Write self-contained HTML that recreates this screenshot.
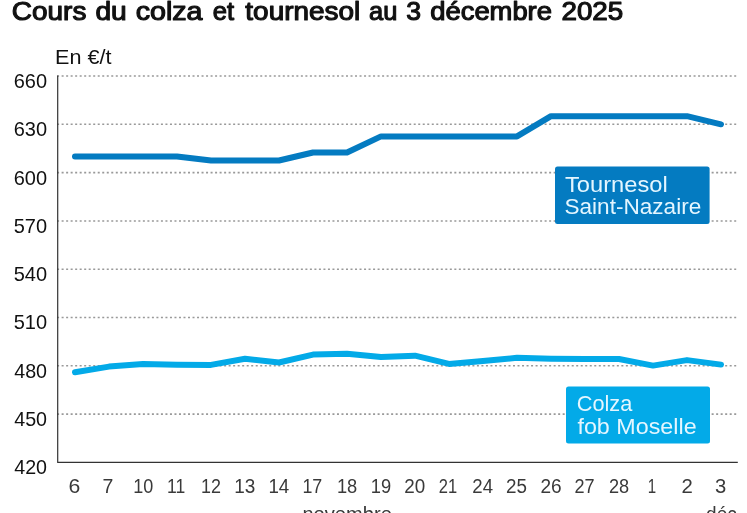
<!DOCTYPE html>
<html lang="fr">
<head>
<meta charset="utf-8">
<title>Cours du colza et tournesol au 3 décembre 2025</title>
<style>
html,body{margin:0;padding:0;background:#fff;}
body{width:747px;height:513px;overflow:hidden;font-family:"Liberation Sans",sans-serif;}
svg{display:block;}
text{font-family:"Liberation Sans",sans-serif;}
.title{font-size:26px;font-weight:normal;fill:#111;stroke:#111;stroke-width:1.15;stroke-linejoin:round;}
.unit{font-size:20px;fill:#111;}
.yl{font-size:20.4px;fill:#111;}
.xl{font-size:20px;fill:#3a3a3a;}
.month{font-size:20px;fill:#3a3a3a;}
.grid line{stroke:#999;stroke-width:1.55;stroke-dasharray:2 2.514;}
.axis{fill:none;stroke:#333;stroke-width:1.2;stroke-linejoin:round;}
.s1{fill:none;stroke:#047bc1;stroke-width:6;stroke-linecap:round;stroke-linejoin:round;}
.s2{fill:none;stroke:#03aae8;stroke-width:6;stroke-linecap:round;stroke-linejoin:round;}
.lab{font-size:21.5px;fill:#e4f6ff;}
</style>
</head>
<body>
<svg width="747" height="513" viewBox="0 0 747 513">
<rect x="0" y="0" width="747" height="513" fill="#ffffff"/>
<g>
<text class="title" y="19.6"><tspan x="11.89" textLength="74.49" lengthAdjust="spacingAndGlyphs">Cours</tspan> <tspan x="95.46" textLength="31.31" lengthAdjust="spacingAndGlyphs">du</tspan> <tspan x="135.65" textLength="66.85" lengthAdjust="spacingAndGlyphs">colza</tspan> <tspan x="212.71" textLength="21.28" lengthAdjust="spacingAndGlyphs">et</tspan> <tspan x="245.37" textLength="114.84" lengthAdjust="spacingAndGlyphs">tournesol</tspan> <tspan x="369.11" textLength="28.34" lengthAdjust="spacingAndGlyphs">au</tspan> <tspan x="406.39" textLength="14.79" lengthAdjust="spacingAndGlyphs">3</tspan> <tspan x="430.27" textLength="121.68" lengthAdjust="spacingAndGlyphs">décembre</tspan> <tspan x="561.50" textLength="61.73" lengthAdjust="spacingAndGlyphs">2025</tspan></text>
</g>
<text class="unit" x="55.11" y="64.4" textLength="56.37" lengthAdjust="spacingAndGlyphs">En €/t</text>
<g class="grid">
<line x1="57.1" y1="76.0" x2="736.3" y2="76.0"/>
<line x1="57.1" y1="124.3" x2="736.3" y2="124.3"/>
<line x1="57.1" y1="172.6" x2="736.3" y2="172.6"/>
<line x1="57.1" y1="220.9" x2="736.3" y2="220.9"/>
<line x1="57.1" y1="269.2" x2="736.3" y2="269.2"/>
<line x1="57.1" y1="317.5" x2="736.3" y2="317.5"/>
<line x1="57.1" y1="365.8" x2="736.3" y2="365.8"/>
<line x1="57.1" y1="414.1" x2="736.3" y2="414.1"/>
</g>
<path class="axis" d="M57.7 75.4 V462.45 H737.8"/>
<g class="ylab">
<text class="yl" x="13.72" y="87.9" textLength="33.35" lengthAdjust="spacingAndGlyphs">660</text>
<text class="yl" x="13.72" y="136.2" textLength="33.35" lengthAdjust="spacingAndGlyphs">630</text>
<text class="yl" x="13.72" y="184.5" textLength="33.35" lengthAdjust="spacingAndGlyphs">600</text>
<text class="yl" x="13.72" y="232.8" textLength="33.35" lengthAdjust="spacingAndGlyphs">570</text>
<text class="yl" x="13.72" y="281.1" textLength="33.35" lengthAdjust="spacingAndGlyphs">540</text>
<text class="yl" x="13.72" y="329.4" textLength="33.35" lengthAdjust="spacingAndGlyphs">510</text>
<text class="yl" x="14.22" y="377.7" textLength="32.84" lengthAdjust="spacingAndGlyphs">480</text>
<text class="yl" x="14.22" y="426.0" textLength="32.84" lengthAdjust="spacingAndGlyphs">450</text>
<text class="yl" x="14.22" y="474.3" textLength="32.84" lengthAdjust="spacingAndGlyphs">420</text>
</g>
<g class="xlab">
<text class="xl" x="68.54" y="492.5" textLength="11.79" lengthAdjust="spacingAndGlyphs">6</text>
<text class="xl" x="102.43" y="492.5" textLength="10.82" lengthAdjust="spacingAndGlyphs">7</text>
<text class="xl" x="133.15" y="492.5" textLength="20.03" lengthAdjust="spacingAndGlyphs">10</text>
<text class="xl" x="166.98" y="492.5" textLength="18.21" lengthAdjust="spacingAndGlyphs">11</text>
<text class="xl" x="200.96" y="492.5" textLength="19.94" lengthAdjust="spacingAndGlyphs">12</text>
<text class="xl" x="234.28" y="492.5" textLength="21.07" lengthAdjust="spacingAndGlyphs">13</text>
<text class="xl" x="268.39" y="492.5" textLength="20.88" lengthAdjust="spacingAndGlyphs">14</text>
<text class="xl" x="302.46" y="492.5" textLength="19.83" lengthAdjust="spacingAndGlyphs">17</text>
<text class="xl" x="336.93" y="492.5" textLength="20.36" lengthAdjust="spacingAndGlyphs">18</text>
<text class="xl" x="370.83" y="492.5" textLength="20.39" lengthAdjust="spacingAndGlyphs">19</text>
<text class="xl" x="404.26" y="492.5" textLength="20.95" lengthAdjust="spacingAndGlyphs">20</text>
<text class="xl" x="438.78" y="492.5" textLength="18.35" lengthAdjust="spacingAndGlyphs">21</text>
<text class="xl" x="472.37" y="492.5" textLength="20.70" lengthAdjust="spacingAndGlyphs">24</text>
<text class="xl" x="506.06" y="492.5" textLength="20.95" lengthAdjust="spacingAndGlyphs">25</text>
<text class="xl" x="540.45" y="492.5" textLength="21.21" lengthAdjust="spacingAndGlyphs">26</text>
<text class="xl" x="574.50" y="492.5" textLength="20.11" lengthAdjust="spacingAndGlyphs">27</text>
<text class="xl" x="608.89" y="492.5" textLength="20.19" lengthAdjust="spacingAndGlyphs">28</text>
<text class="xl" x="647.87" y="492.5" textLength="8.39" lengthAdjust="spacingAndGlyphs">1</text>
<text class="xl" x="681.48" y="492.5" textLength="11.31" lengthAdjust="spacingAndGlyphs">2</text>
<text class="xl" x="715.04" y="492.5" textLength="11.24" lengthAdjust="spacingAndGlyphs">3</text>
</g>
<text class="month" x="302.44" y="520.6" textLength="89.40" lengthAdjust="spacingAndGlyphs">novembre</text>
<text class="month" x="706.09" y="520.6" textLength="35.86" lengthAdjust="spacingAndGlyphs">déc.</text>
<path class="s1" d="M75.0 156.5 L109.0 156.5 L143.0 156.5 L177.0 156.5 L211.0 160.5 L245.0 160.5 L279.0 160.5 L313.0 152.5 L347.0 152.5 L381.0 136.4 L415.0 136.4 L449.0 136.4 L483.0 136.4 L517.0 136.4 L551.0 116.2 L585.0 116.2 L619.0 116.2 L653.0 116.2 L687.0 116.2 L721.0 124.3"/>
<path class="s2" d="M75.0 372.2 L109.0 366.6 L143.0 364.0 L177.0 364.7 L211.0 364.9 L245.0 358.7 L279.0 362.5 L313.0 354.6 L347.0 353.7 L381.0 356.9 L415.0 355.7 L449.0 363.9 L483.0 361.0 L517.0 357.8 L551.0 358.7 L585.0 359.0 L619.0 359.0 L653.0 365.6 L687.0 360.1 L721.0 364.6"/>
<rect x="555" y="166.5" width="154.6" height="57.5" rx="2.5" fill="#047bc1"/>
<rect x="566" y="386.4" width="144" height="57.2" rx="2.5" fill="#03aae8"/>
<g>
<text class="lab" x="564.95" y="191.6" textLength="102.79" lengthAdjust="spacingAndGlyphs">Tournesol</text>
<text class="lab" x="564.45" y="214.3" textLength="136.80" lengthAdjust="spacingAndGlyphs">Saint-Nazaire</text>
<text class="lab" x="576.69" y="411.1" textLength="55.58" lengthAdjust="spacingAndGlyphs">Colza</text>
<text class="lab" x="577.43" y="433.5" textLength="119.20" lengthAdjust="spacingAndGlyphs">fob Moselle</text>
</g>
</svg>
</body>
</html>
